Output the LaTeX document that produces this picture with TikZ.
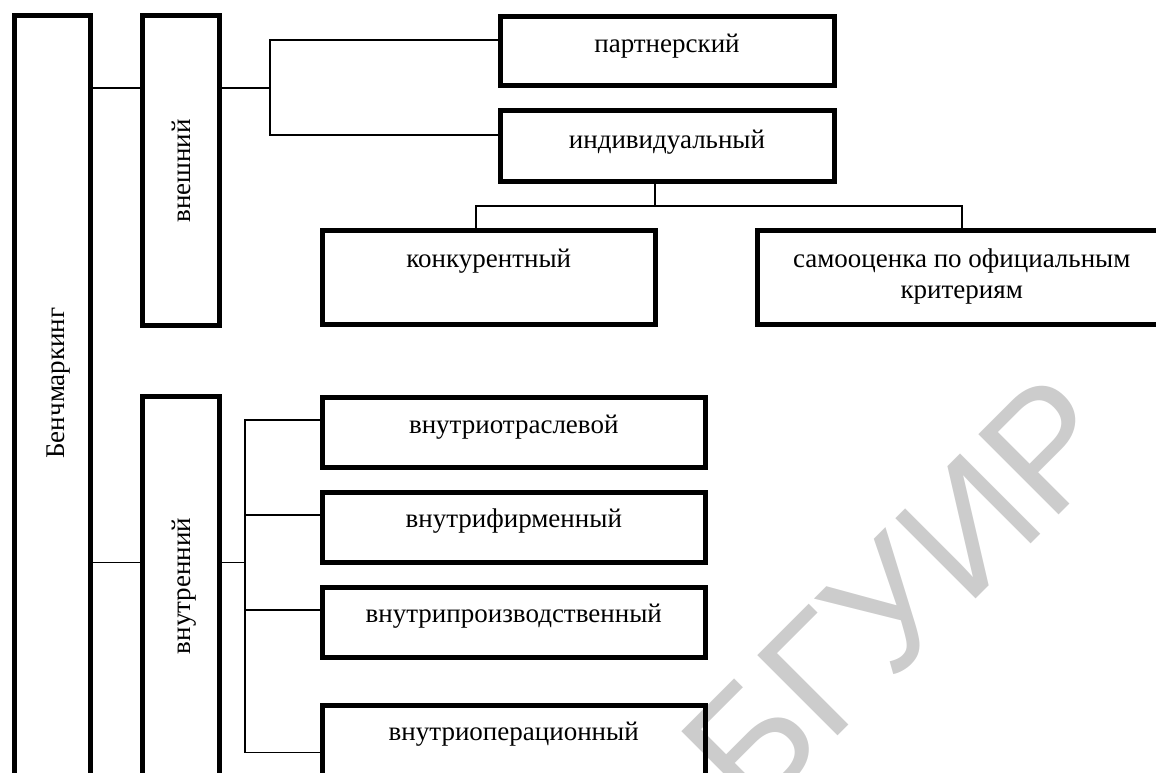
\documentclass[tikz,border=0pt]{standalone}
\usepackage{fontspec}
\setmainfont{Liberation Serif}
\newfontfamily\wmfont{Liberation Sans}
\begin{document}
\begin{tikzpicture}[x=1pt,y=-1pt,
  blk/.style={draw, line width=5pt, rectangle, inner sep=0pt, outer sep=0pt},
  lbl/.style={font=\fontsize{27}{31}\selectfont, inner sep=0pt, anchor=base, align=center},
  vlbl/.style={lbl, rotate=90},
  link/.style={line width=1.3pt},
  mark text/.style={font=\wmfont\fontsize{165}{165}\selectfont, text=black!20, inner sep=0pt, anchor=base west, rotate=45}
]
\useasboundingbox (0,0) rectangle (1156,773);
\clip (0,0) rectangle (1156,773);

% watermark
\node[mark text] (wm) at (752,822) {БГУИР};

% main column boxes
\node[blk, minimum width=76, minimum height=784.5] (bench) at (52.5,407.75) {};
\node[blk, minimum width=77, minimum height=309.5] (ext) at (181,170.25) {};
\node[blk, minimum width=77, minimum height=403.5] (int) at (181,598.25) {};

% external branch
\node[blk, minimum width=333.5, minimum height=69.5] (partner) at (667.25,51.25) {};
\node[blk, minimum width=333.5, minimum height=70] (indiv) at (667.25,146) {};
\node[blk, minimum width=333.5, minimum height=94] (konk) at (488.75,277.5) {};
\node[blk, minimum width=408.5, minimum height=94] (self) at (961.75,277.5) {};

% internal branch
\node[blk, minimum width=383.5, minimum height=70] (in1) at (513.75,432.5) {};
\node[blk, minimum width=383.5, minimum height=70] (in2) at (513.75,527.5) {};
\node[blk, minimum width=383.5, minimum height=70] (in3) at (513.75,622.5) {};
\node[blk, minimum width=383.5, minimum height=70] (in4) at (513.75,740.5) {};

% labels
\node[vlbl] (bench-t) at (64,383) {Бенчмаркинг};
\node[vlbl] (ext-t) at (190,171) {внешний};
\node[vlbl] (int-t) at (190,586) {внутренний};
\node[lbl] (partner-t) at (667,53) {партнерский};
\node[lbl] (indiv-t) at (667,148) {индивидуальный};
\node[lbl] (konk-t) at (488.75,267) {конкурентный};
\node[lbl] (self-t) at (961.75,298) {самооценка по официальным\\критериям};
\node[lbl] (in1-t) at (513.75,433) {внутриотраслевой};
\node[lbl] (in2-t) at (513.75,527) {внутрифирменный};
\node[lbl] (in3-t) at (513.75,622) {внутрипроизводственный};
\node[lbl] (in4-t) at (513.75,740) {внутриоперационный};

% junction points
\coordinate (jext) at (270,88);
\coordinate (jind) at (655,206);
\coordinate (jint) at (245,562.5);

% connectors: top level
\draw[link] (bench.east |- jext) -- (ext.west |- jext);
\draw[link] (bench.east |- jint) -- (int.west |- jint);

% connectors: external
\draw[link] (ext.east |- jext) -- (jext);
\draw[link] (partner.west |- 0,40) -| (jext |- 0,40) -- (jext |- 0,135) -- (indiv.west |- 0,135);
\draw[link] (indiv.south -| jind) -- (jind);
\draw[link] (konk.north -| 476,0) |- (jind) -| (self.north -| 962,0);

% connectors: internal
\draw[link] (int.east |- jint) -- (jint);
\draw[link] (in1.west |- 0,420) -| (jint |- 0,420) -- (jint |- 0,752.5) -- (in4.west |- 0,752.5);
\draw[link] (jint |- 0,515) -- (in2.west |- 0,515);
\draw[link] (jint |- 0,610) -- (in3.west |- 0,610);
\end{tikzpicture}
\end{document}
